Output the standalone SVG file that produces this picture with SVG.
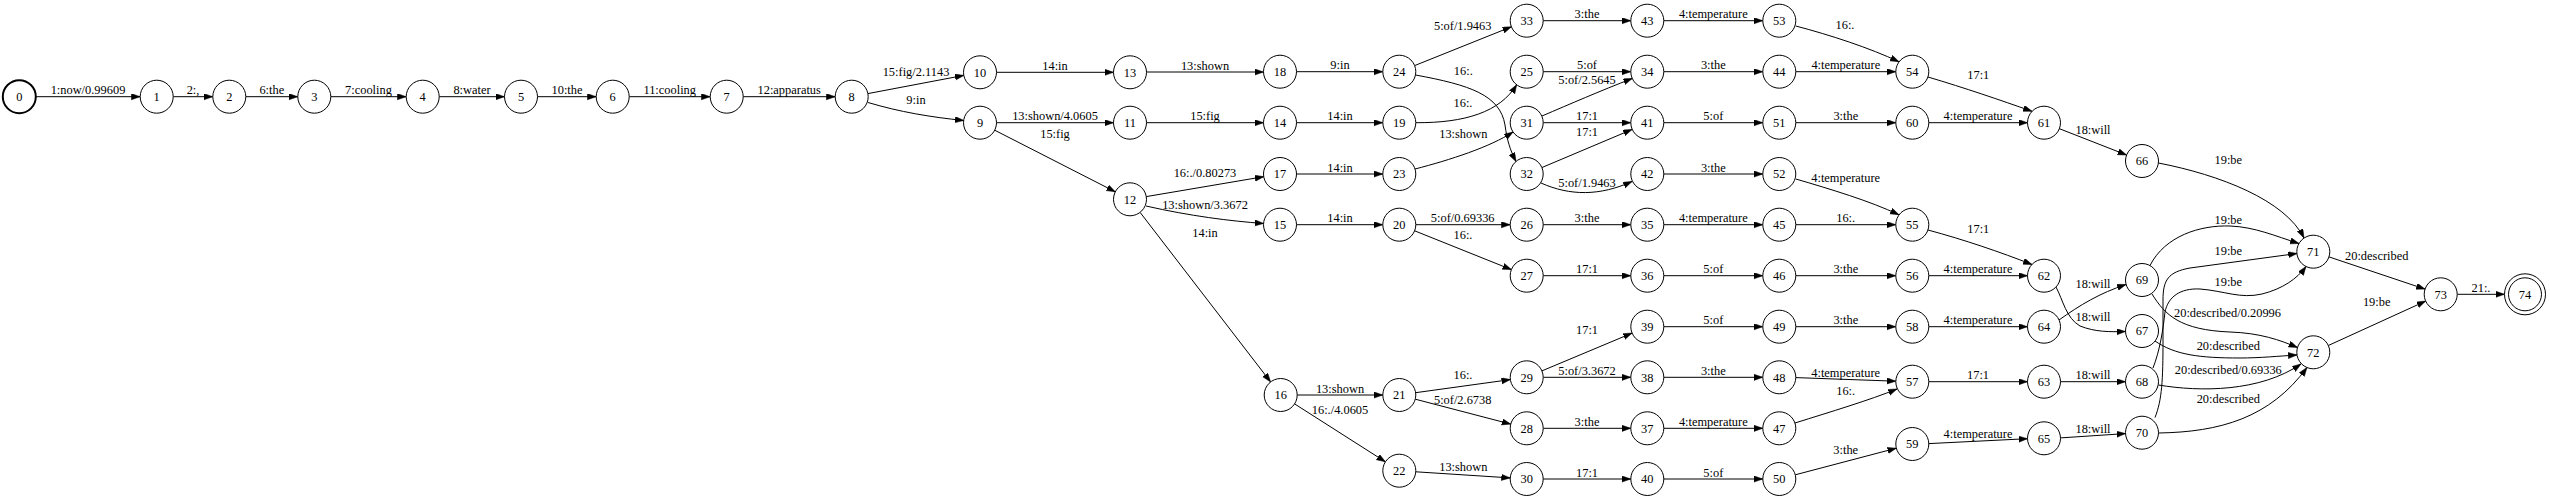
<svg xmlns="http://www.w3.org/2000/svg" width="2550" height="500" viewBox="0 0 2550 500">
<style>
.n circle{fill:#fff;stroke:#000;stroke-width:1}
.n text,.e text{font-family:"Liberation Serif","Times New Roman",serif;font-size:12.4px;text-anchor:middle;fill:#000}
.e path{fill:none;stroke:#000;stroke-width:1;marker-end:url(#ah)}
</style>
<defs>
<marker id="ah" markerUnits="userSpaceOnUse" markerWidth="10" markerHeight="8" refX="8.8" refY="3.1" orient="auto">
<path d="M0,0 L8.8,3.1 L0,6.2 z" fill="#000" stroke="#000" stroke-width="0.5"/>
</marker>
</defs>
<rect width="2550" height="500" fill="#fff"/>
<g id="connectors" class="e">
<path d="M35.8,96.7 H140.2"/><text x="88" y="94.2">1:now/0.99609</text>
<path d="M173.2,96.7 H212.8"/><text x="193" y="94.2">2:,</text>
<path d="M245.8,96.7 H297.8"/><text x="271.8" y="94.2">6:the</text>
<path d="M330.8,96.7 H406.2"/><text x="368.5" y="94.2">7:cooling</text>
<path d="M439.2,96.7 H504.5"/><text x="472" y="94.2">8:water</text>
<path d="M537.5,96.7 H596.2"/><text x="567" y="94.2">10:the</text>
<path d="M629.2,96.7 H710.2"/><text x="669.7" y="94.2">11:cooling</text>
<path d="M743.2,96.7 H835.2"/><text x="789.2" y="94.2">12:apparatus</text>
<path d="M867.9,93.6 L963.8,75.4"/><text x="916" y="76">15:fig/2.1143</text>
<path d="M868,102.5 C900,112 930,117 963.8,120.5"/><text x="916" y="104">9:in</text>
<path d="M996.5,72.3 H1113.5"/><text x="1055" y="69.8">14:in</text>
<path d="M1146.5,72 H1263.5"/><text x="1205" y="69.5">13:shown</text>
<path d="M996.5,122.7 H1113.5"/><text x="1055" y="120.2">13:shown/4.0605</text>
<path d="M994.7,130.2 L1115.3,191.8"/><text x="1055" y="137.5">15:fig</text>
<path d="M1146.5,122.7 H1263.5"/><text x="1205" y="120.2">15:fig</text>
<path d="M1146.3,196.6 L1263.7,176.7"/><text x="1205" y="177">16:./0.80273</text>
<path d="M1146,206 C1190,216 1230,221 1263.5,223.5"/><text x="1205" y="209">13:shown/3.3672</text>
<path d="M1140.1,212.4 L1270.6,381.9"/><text x="1205" y="237">14:in</text>
<path d="M1296.5,71.7 H1382.8"/><text x="1340" y="69.2">9:in</text>
<path d="M1296.5,122.7 H1382.8"/><text x="1340" y="120.2">14:in</text>
<path d="M1296.5,174 H1382.8"/><text x="1340" y="171.5">14:in</text>
<path d="M1296.5,224.7 H1382.8"/><text x="1340" y="222.2">14:in</text>
<path d="M1297.2,395 H1382.8"/><text x="1340" y="392.5">13:shown</text>
<path d="M1294.6,403.9 L1385.4,461.8"/><text x="1340" y="413.5">16:./4.0605</text>
<path d="M1414.6,65.6 L1511.4,26.8"/><text x="1462.7" y="30">5:of/1.9463</text>
<path d="M1415.5,75 C1470,85 1500,95 1505,125 C1507,140 1510,150 1516,161.5"/><text x="1463.3" y="75">16:.</text>
<path d="M1415.8,122.7 C1465,123 1500,112 1516.7,84.7"/><text x="1463" y="107">16:.</text>
<path d="M1415,169 C1450,160 1490,147 1513,132"/><text x="1463.3" y="138">13:shown</text>
<path d="M1415.8,224.7 H1510.2"/><text x="1462.7" y="222.2">5:of/0.69336</text>
<path d="M1414.6,230.8 L1511.4,269.6"/><text x="1463" y="239">16:.</text>
<path d="M1415.6,392.7 L1510.4,379.6"/><text x="1463" y="379">16:.</text>
<path d="M1415.3,399.2 L1510.7,424.1"/><text x="1462.7" y="404">5:of/2.6738</text>
<path d="M1415.8,471.8 L1510.2,477.9"/><text x="1463.3" y="471">13:shown</text>
<path d="M1543.2,20.7 H1630.8"/><text x="1587" y="18.2">3:the</text>
<path d="M1543.2,71.7 H1630.8"/><text x="1587" y="69.2">5:of</text>
<path d="M1542,116 C1570,104 1600,91 1632.2,78.5"/><text x="1587" y="84">5:of/2.5645</text>
<path d="M1543.2,122.7 H1630.8"/><text x="1587" y="120.2">17:1</text>
<path d="M1542,167.5 L1632,129.5"/><text x="1587" y="136">17:1</text>
<path d="M1541,183 C1570,196 1600,196 1632,181.5"/><text x="1587" y="187">5:of/1.9463</text>
<path d="M1543.2,224.7 H1630.8"/><text x="1587" y="222.2">3:the</text>
<path d="M1543.2,275.7 H1630.8"/><text x="1587" y="273.2">17:1</text>
<path d="M1541.9,370.9 L1632.1,333.1"/><text x="1587" y="333.5">17:1</text>
<path d="M1543.2,377.3 H1630.8"/><text x="1587" y="374.8">5:of/3.3672</text>
<path d="M1543.2,428.3 H1630.8"/><text x="1587" y="425.8">3:the</text>
<path d="M1543.2,479 H1630.8"/><text x="1587" y="476.5">17:1</text>
<path d="M1663.8,20.7 H1762.8"/><text x="1713.3" y="18.2">4:temperature</text>
<path d="M1663.8,71.7 H1762.8"/><text x="1713.3" y="69.2">3:the</text>
<path d="M1663.8,122.7 H1762.8"/><text x="1713.3" y="120.2">5:of</text>
<path d="M1663.8,174 H1762.8"/><text x="1713.3" y="171.5">3:the</text>
<path d="M1663.8,224.7 H1762.8"/><text x="1713.3" y="222.2">4:temperature</text>
<path d="M1663.8,275.7 H1762.8"/><text x="1713.3" y="273.2">5:of</text>
<path d="M1663.8,326.7 H1762.8"/><text x="1713.3" y="324.2">5:of</text>
<path d="M1663.8,377.3 H1762.8"/><text x="1713.3" y="374.8">3:the</text>
<path d="M1663.8,428.3 H1762.8"/><text x="1713.3" y="425.8">4:temperature</text>
<path d="M1663.8,479 H1762.8"/><text x="1713.3" y="476.5">5:of</text>
<path d="M1795.8,26 C1830,35 1870,48 1899,61.8"/><text x="1845" y="29">16:.</text>
<path d="M1795.8,71.7 H1895.8"/><text x="1845.8" y="69.2">4:temperature</text>
<path d="M1928,77 C1965,88 2000,100 2032,111.3"/><text x="1978.3" y="79">17:1</text>
<path d="M1795.8,122.7 H1895.8"/><text x="1845.8" y="120.2">3:the</text>
<path d="M1928.8,122.7 H2027.5"/><text x="1978" y="120.2">4:temperature</text>
<path d="M1795.8,179 C1830,189 1870,201 1899,214.8"/><text x="1845.7" y="181.5">4:temperature</text>
<path d="M1795.8,224.7 H1895.8"/><text x="1845.7" y="222.2">16:.</text>
<path d="M1928,230 C1965,240 2000,252 2032,264.5"/><text x="1978.3" y="232.5">17:1</text>
<path d="M1795.8,275.7 H1895.8"/><text x="1845.8" y="273.2">3:the</text>
<path d="M1928.8,275.7 H2027.5"/><text x="1978" y="273.2">4:temperature</text>
<path d="M1795.8,326.7 H1895.8"/><text x="1845.8" y="324.2">3:the</text>
<path d="M1928.8,326.7 H2027.5"/><text x="1978" y="324.2">4:temperature</text>
<path d="M1795.8,377.6 L1895.8,381.2"/><text x="1845.7" y="376.5">4:temperature</text>
<path d="M1795,423 C1830,412 1870,400 1897,389"/><text x="1845.7" y="395">16:.</text>
<path d="M1928.8,381.7 H2027.5"/><text x="1978" y="379.2">17:1</text>
<path d="M1795.3,474.8 L1896.3,448.2"/><text x="1845.7" y="453.5">3:the</text>
<path d="M1928.8,443.6 L2027.5,438.7"/><text x="1978" y="437.5">4:temperature</text>
<path d="M2059.4,128.7 L2126.6,155"/><text x="2093" y="133.5">18:will</text>
<path d="M2056,287 C2063,300 2066,318 2080,326 C2095,332 2110,332 2125.5,331.5"/><text x="2093" y="321">18:will</text>
<path d="M2059,320 C2080,305 2100,293 2126,284.5"/><text x="2093" y="287.5">18:will</text>
<path d="M2060.5,381.7 H2125.5"/><text x="2093" y="379.2">18:will</text>
<path d="M2060.5,437.9 L2125.5,433.6"/><text x="2093" y="432.5">18:will</text>
<path d="M2158.5,163 C2220,175 2285,200 2304,238"/><text x="2228.3" y="164">19:be</text>
<path d="M2150,265.5 C2165,236 2200,225 2230,226 C2255,227 2275,236 2299,243.5"/><text x="2228.3" y="224">19:be</text>
<path d="M2155,417.5 C2162,400 2163,380 2163,340 L2163,300 C2163,280 2168,272 2190,268 L2297,253.5"/><text x="2228.3" y="254.5">19:be</text>
<path d="M2153,368 C2160,350 2163,330 2165,312 C2168,297 2180,288 2200,289 C2225,291 2240,299 2262,294 C2282,289 2297,279 2306,266.5"/><text x="2228.3" y="285.5">19:be</text>
<path d="M2152,294 C2165,315 2180,330 2230,332 C2260,333 2280,340 2297.5,347.5"/><text x="2227.5" y="316.5">20:described/0.20996</text>
<path d="M2155,341 C2175,355 2200,358 2240,358 C2260,358 2280,356 2297,355"/><text x="2228.3" y="350">20:described</text>
<path d="M2158.5,385 C2200,392 2260,392 2301,364"/><text x="2228.3" y="374">20:described/0.69336</text>
<path d="M2158.5,433 C2220,432 2270,418 2307,367.5"/><text x="2228.3" y="402.5">20:described</text>
<path d="M2329,256.9 L2425,289.1"/><text x="2376.7" y="260">20:described</text>
<path d="M2328.3,345.5 L2425.7,301.1"/><text x="2376.7" y="306">19:be</text>
<path d="M2457.2,294.3 H2504.5"/><text x="2481" y="292">21:.</text>
</g>
<g id="n0" class="n"><circle cx="19.3" cy="96.7" r="16.5" style="stroke-width:2"/><text x="19.3" y="101">0</text></g>
<g id="n1" class="n"><circle cx="156.7" cy="96.7" r="16.5"/><text x="156.7" y="101">1</text></g>
<g id="n2" class="n"><circle cx="229.3" cy="96.7" r="16.5"/><text x="229.3" y="101">2</text></g>
<g id="n3" class="n"><circle cx="314.3" cy="96.7" r="16.5"/><text x="314.3" y="101">3</text></g>
<g id="n4" class="n"><circle cx="422.7" cy="96.7" r="16.5"/><text x="422.7" y="101">4</text></g>
<g id="n5" class="n"><circle cx="521" cy="96.7" r="16.5"/><text x="521" y="101">5</text></g>
<g id="n6" class="n"><circle cx="612.7" cy="96.7" r="16.5"/><text x="612.7" y="101">6</text></g>
<g id="n7" class="n"><circle cx="726.7" cy="96.7" r="16.5"/><text x="726.7" y="101">7</text></g>
<g id="n8" class="n"><circle cx="851.7" cy="96.7" r="16.5"/><text x="851.7" y="101">8</text></g>
<g id="n10" class="n"><circle cx="980" cy="72.3" r="16.5"/><text x="980" y="76.6">10</text></g>
<g id="n9" class="n"><circle cx="980" cy="122.7" r="16.5"/><text x="980" y="127">9</text></g>
<g id="n13" class="n"><circle cx="1130" cy="72.3" r="16.5"/><text x="1130" y="76.6">13</text></g>
<g id="n11" class="n"><circle cx="1130" cy="122.7" r="16.5"/><text x="1130" y="127">11</text></g>
<g id="n12" class="n"><circle cx="1130" cy="199.3" r="16.5"/><text x="1130" y="203.6">12</text></g>
<g id="n18" class="n"><circle cx="1280" cy="71.7" r="16.5"/><text x="1280" y="76">18</text></g>
<g id="n14" class="n"><circle cx="1280" cy="122.7" r="16.5"/><text x="1280" y="127">14</text></g>
<g id="n17" class="n"><circle cx="1280" cy="174" r="16.5"/><text x="1280" y="178.3">17</text></g>
<g id="n15" class="n"><circle cx="1280" cy="224.7" r="16.5"/><text x="1280" y="229">15</text></g>
<g id="n16" class="n"><circle cx="1280.7" cy="395" r="16.5"/><text x="1280.7" y="399.3">16</text></g>
<g id="n24" class="n"><circle cx="1399.3" cy="71.7" r="16.5"/><text x="1399.3" y="76">24</text></g>
<g id="n19" class="n"><circle cx="1399.3" cy="122.7" r="16.5"/><text x="1399.3" y="127">19</text></g>
<g id="n23" class="n"><circle cx="1399.3" cy="174" r="16.5"/><text x="1399.3" y="178.3">23</text></g>
<g id="n20" class="n"><circle cx="1399.3" cy="224.7" r="16.5"/><text x="1399.3" y="229">20</text></g>
<g id="n21" class="n"><circle cx="1399.3" cy="395" r="16.5"/><text x="1399.3" y="399.3">21</text></g>
<g id="n22" class="n"><circle cx="1399.3" cy="470.7" r="16.5"/><text x="1399.3" y="475">22</text></g>
<g id="n33" class="n"><circle cx="1526.7" cy="20.7" r="16.5"/><text x="1526.7" y="25">33</text></g>
<g id="n25" class="n"><circle cx="1526.7" cy="71.7" r="16.5"/><text x="1526.7" y="76">25</text></g>
<g id="n31" class="n"><circle cx="1526.7" cy="122.7" r="16.5"/><text x="1526.7" y="127">31</text></g>
<g id="n32" class="n"><circle cx="1526.7" cy="174" r="16.5"/><text x="1526.7" y="178.3">32</text></g>
<g id="n26" class="n"><circle cx="1526.7" cy="224.7" r="16.5"/><text x="1526.7" y="229">26</text></g>
<g id="n27" class="n"><circle cx="1526.7" cy="275.7" r="16.5"/><text x="1526.7" y="280">27</text></g>
<g id="n29" class="n"><circle cx="1526.7" cy="377.3" r="16.5"/><text x="1526.7" y="381.6">29</text></g>
<g id="n28" class="n"><circle cx="1526.7" cy="428.3" r="16.5"/><text x="1526.7" y="432.6">28</text></g>
<g id="n30" class="n"><circle cx="1526.7" cy="479" r="16.5"/><text x="1526.7" y="483.3">30</text></g>
<g id="n43" class="n"><circle cx="1647.3" cy="20.7" r="16.5"/><text x="1647.3" y="25">43</text></g>
<g id="n34" class="n"><circle cx="1647.3" cy="71.7" r="16.5"/><text x="1647.3" y="76">34</text></g>
<g id="n41" class="n"><circle cx="1647.3" cy="122.7" r="16.5"/><text x="1647.3" y="127">41</text></g>
<g id="n42" class="n"><circle cx="1647.3" cy="174" r="16.5"/><text x="1647.3" y="178.3">42</text></g>
<g id="n35" class="n"><circle cx="1647.3" cy="224.7" r="16.5"/><text x="1647.3" y="229">35</text></g>
<g id="n36" class="n"><circle cx="1647.3" cy="275.7" r="16.5"/><text x="1647.3" y="280">36</text></g>
<g id="n39" class="n"><circle cx="1647.3" cy="326.7" r="16.5"/><text x="1647.3" y="331">39</text></g>
<g id="n38" class="n"><circle cx="1647.3" cy="377.3" r="16.5"/><text x="1647.3" y="381.6">38</text></g>
<g id="n37" class="n"><circle cx="1647.3" cy="428.3" r="16.5"/><text x="1647.3" y="432.6">37</text></g>
<g id="n40" class="n"><circle cx="1647.3" cy="479" r="16.5"/><text x="1647.3" y="483.3">40</text></g>
<g id="n53" class="n"><circle cx="1779.3" cy="20.7" r="16.5"/><text x="1779.3" y="25">53</text></g>
<g id="n44" class="n"><circle cx="1779.3" cy="71.7" r="16.5"/><text x="1779.3" y="76">44</text></g>
<g id="n51" class="n"><circle cx="1779.3" cy="122.7" r="16.5"/><text x="1779.3" y="127">51</text></g>
<g id="n52" class="n"><circle cx="1779.3" cy="174" r="16.5"/><text x="1779.3" y="178.3">52</text></g>
<g id="n45" class="n"><circle cx="1779.3" cy="224.7" r="16.5"/><text x="1779.3" y="229">45</text></g>
<g id="n46" class="n"><circle cx="1779.3" cy="275.7" r="16.5"/><text x="1779.3" y="280">46</text></g>
<g id="n49" class="n"><circle cx="1779.3" cy="326.7" r="16.5"/><text x="1779.3" y="331">49</text></g>
<g id="n48" class="n"><circle cx="1779.3" cy="377.3" r="16.5"/><text x="1779.3" y="381.6">48</text></g>
<g id="n47" class="n"><circle cx="1779.3" cy="428.3" r="16.5"/><text x="1779.3" y="432.6">47</text></g>
<g id="n50" class="n"><circle cx="1779.3" cy="479" r="16.5"/><text x="1779.3" y="483.3">50</text></g>
<g id="n54" class="n"><circle cx="1912.3" cy="71.7" r="16.5"/><text x="1912.3" y="76">54</text></g>
<g id="n60" class="n"><circle cx="1912.3" cy="122.7" r="16.5"/><text x="1912.3" y="127">60</text></g>
<g id="n55" class="n"><circle cx="1912.3" cy="224.7" r="16.5"/><text x="1912.3" y="229">55</text></g>
<g id="n56" class="n"><circle cx="1912.3" cy="275.7" r="16.5"/><text x="1912.3" y="280">56</text></g>
<g id="n58" class="n"><circle cx="1912.3" cy="326.7" r="16.5"/><text x="1912.3" y="331">58</text></g>
<g id="n57" class="n"><circle cx="1912.3" cy="381.7" r="16.5"/><text x="1912.3" y="386">57</text></g>
<g id="n59" class="n"><circle cx="1912.3" cy="444" r="16.5"/><text x="1912.3" y="448.3">59</text></g>
<g id="n61" class="n"><circle cx="2044" cy="122.7" r="16.5"/><text x="2044" y="127">61</text></g>
<g id="n62" class="n"><circle cx="2044" cy="275.7" r="16.5"/><text x="2044" y="280">62</text></g>
<g id="n64" class="n"><circle cx="2044" cy="326.7" r="16.5"/><text x="2044" y="331">64</text></g>
<g id="n63" class="n"><circle cx="2044" cy="381.7" r="16.5"/><text x="2044" y="386">63</text></g>
<g id="n65" class="n"><circle cx="2044" cy="438.3" r="16.5"/><text x="2044" y="442.6">65</text></g>
<g id="n66" class="n"><circle cx="2142" cy="161" r="16.5"/><text x="2142" y="165.3">66</text></g>
<g id="n69" class="n"><circle cx="2142" cy="280" r="16.5"/><text x="2142" y="284.3">69</text></g>
<g id="n67" class="n"><circle cx="2142" cy="331" r="16.5"/><text x="2142" y="335.3">67</text></g>
<g id="n68" class="n"><circle cx="2142" cy="381.7" r="16.5"/><text x="2142" y="386">68</text></g>
<g id="n70" class="n"><circle cx="2142" cy="432.7" r="16.5"/><text x="2142" y="437">70</text></g>
<g id="n71" class="n"><circle cx="2313.3" cy="251.7" r="16.5"/><text x="2313.3" y="256">71</text></g>
<g id="n72" class="n"><circle cx="2313.3" cy="352.3" r="16.5"/><text x="2313.3" y="356.6">72</text></g>
<g id="n73" class="n"><circle cx="2440.7" cy="294.3" r="16.5"/><text x="2440.7" y="298.6">73</text></g>
<g id="n74" class="n"><circle cx="2525" cy="294.3" r="20.5"/><circle cx="2525" cy="294.3" r="16.5"/><text x="2525" y="298.6">74</text></g>
</svg>
